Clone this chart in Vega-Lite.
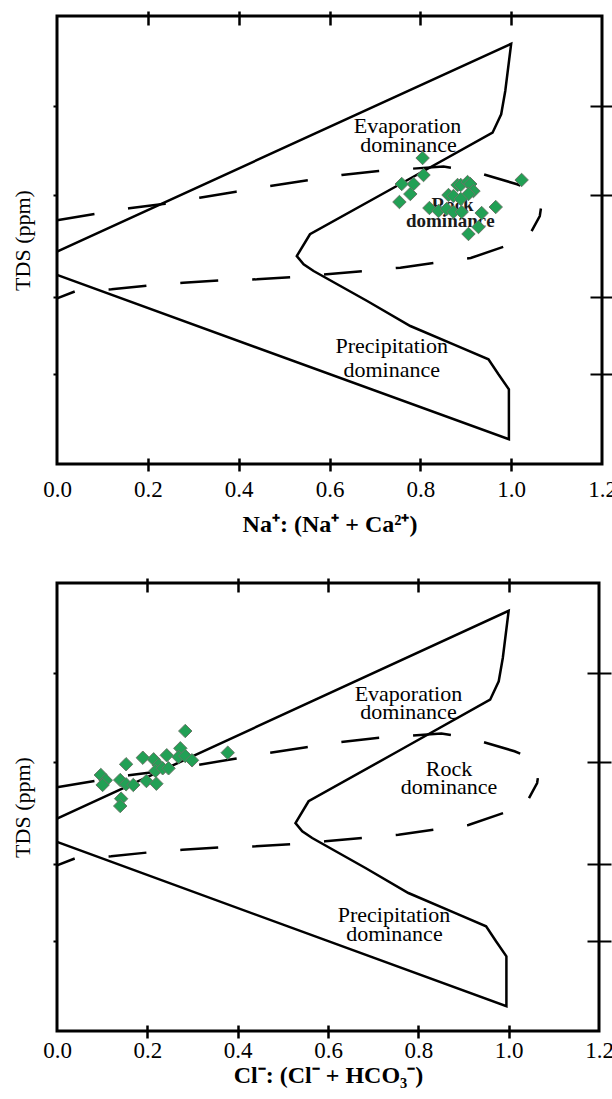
{
  "$schema": "https://vega.github.io/schema/vega-lite/v6.json",
  "background": "white",
  "padding": {"left": 9, "top": 8, "right": 0, "bottom": 0},
  "spacing": 37,
  "config": {
    "view": {"stroke": "black", "strokeWidth": 3},
    "font": "Liberation Serif",
    "axis": {"grid": false, "domain": false, "tickColor": "black", "labelFont": "Liberation Serif", "titleFont": "Liberation Serif", "labelColor": "black", "titleColor": "black"}
  },
  "datasets": {
    "curves": [
      {"line": "solid", "ord": 0, "x": 0.0, "y": 2.37},
      {"line": "solid", "ord": 1, "x": 1.0, "y": 4.69},
      {"line": "solid", "ord": 2, "x": 0.987, "y": 4.163},
      {"line": "solid", "ord": 3, "x": 0.978, "y": 3.903},
      {"line": "solid", "ord": 4, "x": 0.959, "y": 3.698},
      {"line": "solid", "ord": 5, "x": 0.756, "y": 3.125},
      {"line": "solid", "ord": 6, "x": 0.557, "y": 2.564},
      {"line": "solid", "ord": 7, "x": 0.528, "y": 2.321},
      {"line": "solid", "ord": 8, "x": 0.543, "y": 2.229},
      {"line": "solid", "ord": 9, "x": 0.565, "y": 2.154},
      {"line": "solid", "ord": 10, "x": 0.683, "y": 1.819},
      {"line": "solid", "ord": 11, "x": 0.778, "y": 1.54},
      {"line": "solid", "ord": 12, "x": 0.873, "y": 1.336},
      {"line": "solid", "ord": 13, "x": 0.95, "y": 1.169},
      {"line": "solid", "ord": 14, "x": 0.972, "y": 1.001},
      {"line": "solid", "ord": 15, "x": 0.995, "y": 0.834},
      {"line": "solid", "ord": 16, "x": 0.995, "y": 0.276},
      {"line": "solid", "ord": 17, "x": 0.0, "y": 2.11},
      {"line": "dashup", "ord": 0, "x": 0.0, "y": 2.72},
      {"line": "dashup", "ord": 1, "x": 0.086, "y": 2.794},
      {"line": "dashup", "ord": 2, "x": 0.159, "y": 2.854},
      {"line": "dashup", "ord": 3, "x": 0.238, "y": 2.905},
      {"line": "dashup", "ord": 4, "x": 0.314, "y": 2.972},
      {"line": "dashup", "ord": 5, "x": 0.394, "y": 3.039},
      {"line": "dashup", "ord": 6, "x": 0.469, "y": 3.103},
      {"line": "dashup", "ord": 7, "x": 0.552, "y": 3.166},
      {"line": "dashup", "ord": 8, "x": 0.627, "y": 3.225},
      {"line": "dashup", "ord": 9, "x": 0.708, "y": 3.27},
      {"line": "dashup", "ord": 10, "x": 0.851, "y": 3.32},
      {"line": "dashup", "ord": 11, "x": 0.917, "y": 3.27},
      {"line": "dashup", "ord": 12, "x": 0.939, "y": 3.233},
      {"line": "dashup", "ord": 13, "x": 1.013, "y": 3.122},
      {"line": "dashup", "ord": 14, "x": 1.049, "y": 3.047},
      {"line": "dashup", "ord": 15, "x": 1.067, "y": 2.902},
      {"line": "dashup", "ord": 16, "x": 1.063, "y": 2.768},
      {"line": "dashup", "ord": 17, "x": 1.045, "y": 2.6},
      {"line": "dashlo", "ord": 0, "x": 0.0, "y": 1.849},
      {"line": "dashlo", "ord": 1, "x": 0.042, "y": 1.931},
      {"line": "dashlo", "ord": 2, "x": 0.12, "y": 1.95},
      {"line": "dashlo", "ord": 3, "x": 0.204, "y": 1.994},
      {"line": "dashlo", "ord": 4, "x": 0.278, "y": 2.023},
      {"line": "dashlo", "ord": 5, "x": 0.359, "y": 2.05},
      {"line": "dashlo", "ord": 6, "x": 0.44, "y": 2.061},
      {"line": "dashlo", "ord": 7, "x": 0.521, "y": 2.087},
      {"line": "dashlo", "ord": 8, "x": 0.594, "y": 2.117},
      {"line": "dashlo", "ord": 9, "x": 0.675, "y": 2.154},
      {"line": "dashlo", "ord": 10, "x": 0.756, "y": 2.191},
      {"line": "dashlo", "ord": 11, "x": 0.833, "y": 2.247},
      {"line": "dashlo", "ord": 12, "x": 0.911, "y": 2.299},
      {"line": "dashlo", "ord": 13, "x": 0.988, "y": 2.433}
    ],
    "pts1": [
      {"x": 0.805, "y": 3.415}, {"x": 0.807, "y": 3.225}, {"x": 0.785, "y": 3.125},
      {"x": 0.759, "y": 3.125}, {"x": 0.778, "y": 3.013}, {"x": 0.754, "y": 2.924},
      {"x": 0.882, "y": 3.114}, {"x": 0.889, "y": 3.114}, {"x": 0.904, "y": 3.147},
      {"x": 0.91, "y": 3.125}, {"x": 0.917, "y": 3.046}, {"x": 0.906, "y": 3.013},
      {"x": 0.862, "y": 3.002}, {"x": 0.873, "y": 2.991}, {"x": 0.889, "y": 2.958},
      {"x": 0.82, "y": 2.857}, {"x": 0.84, "y": 2.824}, {"x": 0.858, "y": 2.846},
      {"x": 0.873, "y": 2.813}, {"x": 0.891, "y": 2.813}, {"x": 0.935, "y": 2.801},
      {"x": 0.966, "y": 2.868}, {"x": 0.928, "y": 2.645}, {"x": 0.906, "y": 2.567},
      {"x": 1.023, "y": 3.17}
    ],
    "pts2": [
      {"x": 0.284, "y": 3.348}, {"x": 0.273, "y": 3.155}, {"x": 0.269, "y": 3.058},
      {"x": 0.284, "y": 3.069}, {"x": 0.299, "y": 3.021}, {"x": 0.378, "y": 3.106},
      {"x": 0.243, "y": 3.077}, {"x": 0.214, "y": 3.032}, {"x": 0.19, "y": 3.05},
      {"x": 0.153, "y": 2.977}, {"x": 0.225, "y": 2.969}, {"x": 0.218, "y": 2.902},
      {"x": 0.234, "y": 2.932}, {"x": 0.247, "y": 2.932}, {"x": 0.097, "y": 2.857},
      {"x": 0.108, "y": 2.798}, {"x": 0.101, "y": 2.746}, {"x": 0.14, "y": 2.801},
      {"x": 0.153, "y": 2.753}, {"x": 0.169, "y": 2.746}, {"x": 0.198, "y": 2.79},
      {"x": 0.22, "y": 2.76}, {"x": 0.142, "y": 2.593}, {"x": 0.14, "y": 2.511}
    ],
    "txt1": [
      {"t": "Evaporation", "x": 0.772, "y": 3.694, "w": "normal"},
      {"t": "dominance", "x": 0.774, "y": 3.477, "w": "normal"},
      {"t": "Precipitation", "x": 0.737, "y": 1.242, "w": "normal"},
      {"t": "dominance", "x": 0.737, "y": 0.971, "w": "normal"},
      {"t": "Rock", "x": 0.871, "y": 2.824, "w": "bold"},
      {"t": "dominance", "x": 0.866, "y": 2.645, "w": "bold"}
    ],
    "txt2": [
      {"t": "Evaporation", "x": 0.778, "y": 3.68, "w": "normal"},
      {"t": "dominance", "x": 0.778, "y": 3.482, "w": "normal"},
      {"t": "Rock", "x": 0.868, "y": 2.848, "w": "normal"},
      {"t": "dominance", "x": 0.868, "y": 2.642, "w": "normal"},
      {"t": "Precipitation", "x": 0.746, "y": 1.217, "w": "normal"},
      {"t": "dominance", "x": 0.747, "y": 1.006, "w": "normal"}
    ]
  },
  "vconcat": [
    {
      "width": 545,
      "height": 448,
      "layer": [
        {
          "data": {"name": "curves"},
          "transform": [{"filter": "datum.line == 'solid'"}],
          "mark": {"type": "line", "color": "black", "strokeWidth": 2.5},
          "encoding": {
            "x": {"field": "x", "type": "quantitative", "scale": {"domain": [0, 1.2], "nice": false, "zero": false},
              "axis": {"orient": "bottom", "values": [0, 0.2, 0.4, 0.6, 0.8, 1.0, 1.2], "format": ".1f", "offset": -6, "tickSize": 13, "tickWidth": 2.5,
                "tickOpacity": {"condition": {"test": "datum.value < 0.1 || datum.value > 1.1", "value": 0}, "value": 1},
                "labelFontSize": 23, "labelPadding": 7, "labelFlush": false, "labelOverlap": false,
                "title": "Na⁺: (Na⁺ + Ca²⁺)", "titleFontSize": 24, "titleFontWeight": "bold", "titlePadding": 11}},
            "y": {"field": "y", "type": "quantitative", "scale": {"domain": [0, 5], "nice": false, "zero": false},
              "axis": {"orient": "left", "values": [1, 1.86, 3, 4], "labels": false, "tickSize": 4, "tickWidth": 2,
                "title": "TDS (ppm)", "titleFontSize": 22, "titleFontWeight": "normal", "titlePadding": 18}},
            "order": {"field": "ord", "type": "quantitative"}
          }
        },
        {
          "data": {"name": "curves"},
          "transform": [{"filter": "datum.line == 'dashup'"}],
          "mark": {"type": "line", "color": "black", "strokeWidth": 2.5, "strokeDash": [38, 34]},
          "encoding": {
            "x": {"field": "x", "type": "quantitative",
              "axis": {"orient": "top", "values": [0.2, 0.4, 0.6, 0.8, 1.0], "labels": false, "offset": -9, "tickSize": 14, "tickWidth": 2.5, "title": null}},
            "y": {"field": "y", "type": "quantitative",
              "axis": {"orient": "right", "values": [1, 1.86, 3, 4], "labels": false, "offset": -12, "tickSize": 24, "tickWidth": 2, "title": null}},
            "order": {"field": "ord", "type": "quantitative"}
          }
        },
        {
          "data": {"name": "curves"},
          "transform": [{"filter": "datum.line == 'dashlo'"}],
          "mark": {"type": "line", "color": "black", "strokeWidth": 2.5, "strokeDash": [38, 34], "strokeDashOffset": 19},
          "encoding": {
            "x": {"field": "x", "type": "quantitative", "axis": null},
            "y": {"field": "y", "type": "quantitative", "axis": null},
            "order": {"field": "ord", "type": "quantitative"}
          }
        },
        {
          "data": {"name": "txt1"},
          "transform": [{"filter": "datum.w == 'normal'"}],
          "mark": {"type": "text", "font": "Liberation Serif", "fontSize": 22, "align": "center", "baseline": "alphabetic", "color": "black"},
          "encoding": {
            "x": {"field": "x", "type": "quantitative", "axis": null},
            "y": {"field": "y", "type": "quantitative", "axis": null},
            "text": {"field": "t"}
          }
        },
        {
          "data": {"name": "txt1"},
          "transform": [{"filter": "datum.w == 'bold'"}],
          "mark": {"type": "text", "font": "Liberation Serif", "fontSize": 19, "fontWeight": "bold", "align": "center", "baseline": "alphabetic", "color": "#1a1a1a"},
          "encoding": {
            "x": {"field": "x", "type": "quantitative", "axis": null},
            "y": {"field": "y", "type": "quantitative", "axis": null},
            "text": {"field": "t"}
          }
        },
        {
          "data": {"name": "pts1"},
          "mark": {"type": "point", "shape": "diamond", "filled": true, "fill": "#22a055", "stroke": "#667766", "strokeWidth": 1, "size": 180, "opacity": 1},
          "encoding": {
            "x": {"field": "x", "type": "quantitative", "axis": null},
            "y": {"field": "y", "type": "quantitative", "axis": null}
          }
        }
      ],
      "resolve": {"axis": {"x": "independent", "y": "independent"}}
    },
    {
      "width": 542,
      "height": 448,
      "layer": [
        {
          "data": {"name": "curves"},
          "transform": [{"filter": "datum.line == 'solid'"}],
          "mark": {"type": "line", "color": "black", "strokeWidth": 2.5},
          "encoding": {
            "x": {"field": "x", "type": "quantitative", "scale": {"domain": [0, 1.2], "nice": false, "zero": false},
              "axis": {"orient": "bottom", "values": [0, 0.2, 0.4, 0.6, 0.8, 1.0, 1.2], "format": ".1f", "offset": -6, "tickSize": 13, "tickWidth": 2.5,
                "tickOpacity": {"condition": {"test": "datum.value < 0.1 || datum.value > 1.1", "value": 0}, "value": 1},
                "labelFontSize": 23, "labelPadding": 1, "labelFlush": false, "labelOverlap": false,
                "title": "Cl⁻: (Cl⁻ + HCO₃⁻)", "titleFontSize": 24, "titleFontWeight": "bold", "titlePadding": 1}},
            "y": {"field": "y", "type": "quantitative", "scale": {"domain": [0, 5], "nice": false, "zero": false},
              "axis": {"orient": "left", "values": [1, 1.86, 3, 4], "labels": false, "tickSize": 4, "tickWidth": 2,
                "title": "TDS (ppm)", "titleFontSize": 22, "titleFontWeight": "normal", "titlePadding": 18}},
            "order": {"field": "ord", "type": "quantitative"}
          }
        },
        {
          "data": {"name": "curves"},
          "transform": [{"filter": "datum.line == 'dashup'"}],
          "mark": {"type": "line", "color": "black", "strokeWidth": 2.5, "strokeDash": [38, 34]},
          "encoding": {
            "x": {"field": "x", "type": "quantitative",
              "axis": {"orient": "top", "values": [0.2, 0.4, 0.6, 0.8, 1.0], "labels": false, "offset": -9, "tickSize": 14, "tickWidth": 2.5, "title": null}},
            "y": {"field": "y", "type": "quantitative",
              "axis": {"orient": "right", "values": [1, 1.86, 3, 4], "labels": false, "offset": -12, "tickSize": 24, "tickWidth": 2, "title": null}},
            "order": {"field": "ord", "type": "quantitative"}
          }
        },
        {
          "data": {"name": "curves"},
          "transform": [{"filter": "datum.line == 'dashlo'"}],
          "mark": {"type": "line", "color": "black", "strokeWidth": 2.5, "strokeDash": [38, 34], "strokeDashOffset": 19},
          "encoding": {
            "x": {"field": "x", "type": "quantitative", "axis": null},
            "y": {"field": "y", "type": "quantitative", "axis": null},
            "order": {"field": "ord", "type": "quantitative"}
          }
        },
        {
          "data": {"name": "txt2"},
          "mark": {"type": "text", "font": "Liberation Serif", "fontSize": 22, "align": "center", "baseline": "alphabetic", "color": "black"},
          "encoding": {
            "x": {"field": "x", "type": "quantitative", "axis": null},
            "y": {"field": "y", "type": "quantitative", "axis": null},
            "text": {"field": "t"}
          }
        },
        {
          "data": {"name": "pts2"},
          "mark": {"type": "point", "shape": "diamond", "filled": true, "fill": "#22a055", "stroke": "#667766", "strokeWidth": 1, "size": 180, "opacity": 1},
          "encoding": {
            "x": {"field": "x", "type": "quantitative", "axis": null},
            "y": {"field": "y", "type": "quantitative", "axis": null}
          }
        }
      ],
      "resolve": {"axis": {"x": "independent", "y": "independent"}}
    }
  ]
}
